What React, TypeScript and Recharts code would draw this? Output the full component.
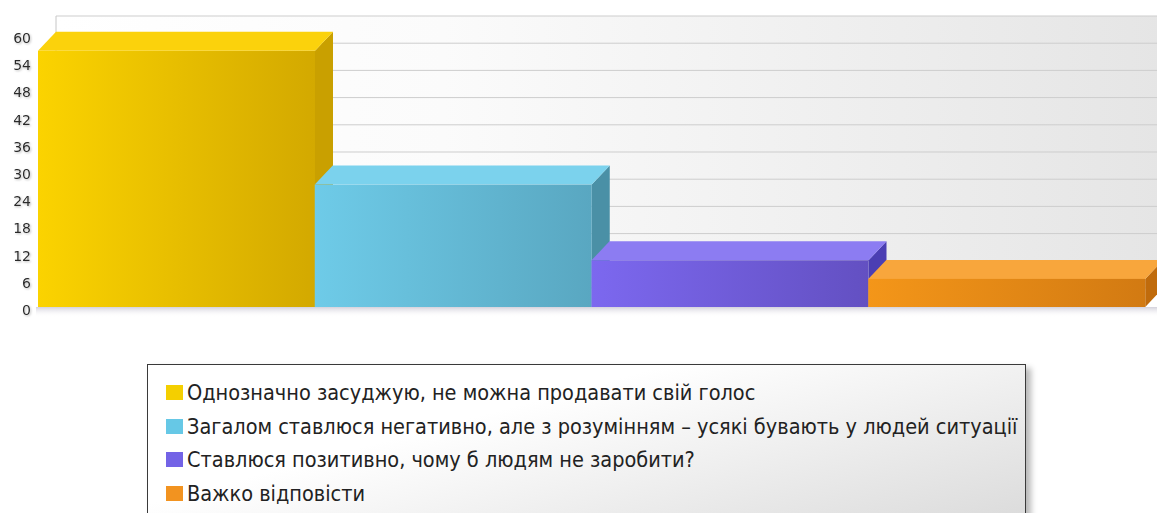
import { BarChart, Bar, XAxis, YAxis, CartesianGrid, Legend, Cell } from "recharts";

const categories = [
  "Однозначно засуджую, не можна продавати свій голос",
  "Загалом ставлюся негативно, але з розумінням – усякі бувають у людей ситуації",
  "Ставлюся позитивно, чому б людям не заробити?",
  "Важко відповісти",
];
const values = [56.5, 27, 10.3, 6.2];
const yTicks = [0, 6, 12, 18, 24, 30, 36, 42, 48, 54, 60];

// front gradient left/right, top face, side face, legend swatch
const frontLeft = ["#fbd300", "#6ecbe8", "#7c68ef", "#f49619"];
const frontRight = ["#d3a900", "#59a7c1", "#6350c2", "#d27a12"];
const topFace = ["#fbd20c", "#7bd2ed", "#8c7cf2", "#f8a63c"];
const sideFace = ["#c9a000", "#4a90a6", "#4b3eb3", "#c06b0c"];
const swatch = ["#f4cf00", "#66c8e6", "#7363e6", "#f29320"];

const data = categories.map((name, i) => ({ name, value: values[i] }));

const DX = 18;
const DY = 19;
const FONT = '"DejaVu Sans Condensed", "DejaVu Sans", sans-serif';

function Wall(p: any) {
  if (p.index !== 0) return <g key={p.key} />;
  const { x, y, width, height, horizontalPoints } = p;
  const left = x + DX;
  const top = y - DY;
  const right = x + width + DX;
  const bottom = y + height - DY;
  return (
    <g key={p.key}>
      <defs>
        <linearGradient id="wallFill" x1="0" y1="0" x2="1" y2="0">
          <stop offset="0" stopColor="#ffffff" />
          <stop offset="0.35" stopColor="#fbfbfb" />
          <stop offset="1" stopColor="#e5e5e5" />
        </linearGradient>
        <linearGradient id="floorShadow" x1="0" y1="0" x2="0" y2="1">
          <stop offset="0" stopColor="#d4d2dc" />
          <stop offset="1" stopColor="#ffffff" stopOpacity="0" />
        </linearGradient>
        <filter id="tickShadow" x="-30%" y="-30%" width="160%" height="160%">
          <feDropShadow dx="1" dy="1" stdDeviation="1" floodColor="#9a9a9a" floodOpacity="0.7" />
        </filter>
      </defs>
      <rect x={left} y={top} width={right - left} height={bottom - top} fill="url(#wallFill)" />
      {(horizontalPoints || []).map((py: number, i: number) => (
        <line key={i} x1={left} x2={right} y1={py - DY} y2={py - DY} stroke="#cdcdcd" strokeWidth={1} />
      ))}
      <line x1={left} y1={top} x2={left} y2={bottom} stroke="#c6c6c6" strokeWidth={1} />
      <rect x={x - 2} y={y + height} width={width + DX} height={10} fill="url(#floorShadow)" />
    </g>
  );
}

function Bar3D(props: any) {
  const { x, y, width, height, index } = props;
  if (height <= 0) return null;
  const gid = `barFront${index}`;
  const r = x + width;
  const b = y + height;
  return (
    <g>
      <defs>
        <linearGradient id={gid} x1="0" y1="0" x2="1" y2="0">
          <stop offset="0" stopColor={frontLeft[index]} />
          <stop offset="1" stopColor={frontRight[index]} />
        </linearGradient>
      </defs>
      <polygon
        points={`${r},${y} ${r + DX},${y - DY} ${r + DX},${b - DY} ${r},${b}`}
        fill={sideFace[index]}
      />
      <polygon
        points={`${x},${y} ${x + DX},${y - DY} ${r + DX},${y - DY} ${r},${y}`}
        fill={topFace[index]}
      />
      <rect x={x} y={y} width={width} height={height} fill={`url(#${gid})`} />
    </g>
  );
}

function LegendBox() {
  return (
    <div
      style={{
        boxSizing: "border-box",
        width: "100%",
        height: "100%",
        border: "1px solid #3a3a3a",
        background: "linear-gradient(165deg, #ffffff 35%, #dadada 100%)",
        boxShadow: "5px 4px 6px rgba(0,0,0,0.28)",
        padding: "11px 0 0 18px",
        fontFamily: FONT,
        fontSize: 21.5,
        color: "#222222",
      }}
    >
      {categories.map((c, i) => (
        <div key={c} style={{ display: "flex", alignItems: "center", height: 33.5, whiteSpace: "nowrap" }}>
          <span
            style={{
              display: "inline-block",
              flex: "none",
              width: 17,
              height: 15,
              background: swatch[i],
              marginRight: 4,
            }}
          />
          <span>{c}</span>
        </div>
      ))}
    </div>
  );
}

export default function App() {
  return (
    <div
      style={{
        position: "absolute",
        left: 0,
        top: 0,
        width: 1157,
        height: 513,
        overflow: "hidden",
        background: "#ffffff",
      }}
    >
      <BarChart
        width={1157}
        height={513}
        data={data}
        margin={{ top: 35, right: 12, bottom: 206, left: 0 }}
        barCategoryGap={0}
        barGap={0}
      >
        <CartesianGrid vertical={false} horizontal={Wall} />
        <XAxis dataKey="name" hide />
        <YAxis
          domain={[0, 60]}
          ticks={yTicks}
          interval={0}
          axisLine={false}
          tickLine={false}
          tickSize={3}
          tickMargin={4}
          width={38}
          tick={{
            fill: "#2a2a2a",
            fontSize: 14,
            fontFamily: '"DejaVu Sans", sans-serif',
            dy: 3,
            filter: "url(#tickShadow)",
          }}
        />
        <Bar dataKey="value" shape={Bar3D} isAnimationActive={false}>
          {data.map((d, i) => (
            <Cell key={d.name} fill={swatch[i]} />
          ))}
        </Bar>
        <Legend
          layout="vertical"
          align="center"
          verticalAlign="middle"
          wrapperStyle={{ left: 147, top: 364, width: 879, height: 165 }}
          content={() => <LegendBox />}
        />
      </BarChart>
    </div>
  );
}
